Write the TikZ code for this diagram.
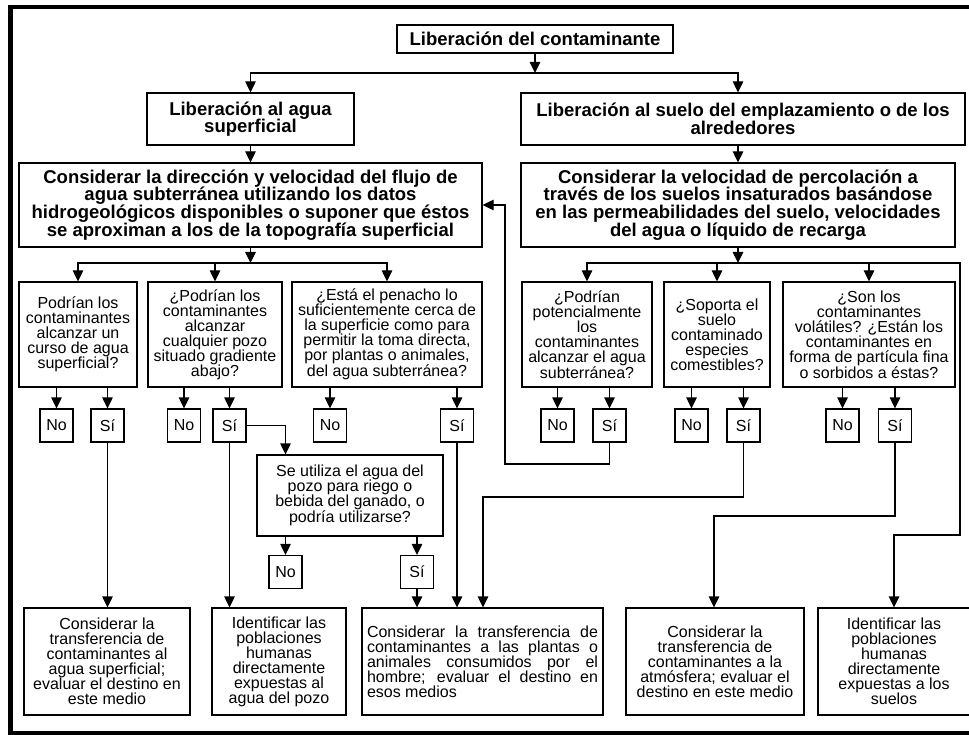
\documentclass[tikz,border=0pt]{standalone}
\usepackage{fontspec}
\setmainfont{Liberation Sans}
\usetikzlibrary{arrows.meta}
\newcommand{\jline}[1]{\makebox[231pt][s]{#1}}

\begin{document}
\begin{tikzpicture}[x=1pt,y=-1pt,
  bigbox/.style={draw,line width=1.2pt,align=center,inner sep=1pt,font=\bfseries\fontsize{18.5}{17.7}\selectfont},
  qbox/.style={draw,line width=1.2pt,align=center,inner sep=1pt,font=\fontsize{16}{15}\selectfont},
  ansbox/.style={qbox,minimum width=33pt,minimum height=33pt},
  boxsize/.style 2 args={minimum width=#1pt,minimum height=#2pt},
  arr/.style={line width=1.2pt,-{Triangle[width=10.5pt,length=11pt]}}
]
\useasboundingbox (0,0) rectangle (969,735);
\draw[line width=4.5pt] (10.5,7) rectangle (1000,733);

% top levels
\node[bigbox,boxsize={276}{28}] (rel) at (535,39) {Liberación del contaminante};
\node[bigbox,boxsize={207}{52}] (agua) at (250.5,119) {Liberación al agua\\superficial};
\node[bigbox,boxsize={444}{52}] (suelo) at (743,119) {Liberación al suelo del emplazamiento o de los\\alrededores};
\node[bigbox,boxsize={463}{84}] (flujo) at (250.5,205) {Considerar la dirección y velocidad del flujo de\\agua subterránea utilizando los datos\\hidrogeológicos disponibles o suponer que éstos\\se aproximan a los de la topografía superficial};
\node[bigbox,boxsize={434}{84}] (percol) at (738,205) {Considerar la velocidad de percolación a\\través de los suelos insaturados basándose\\en las permeabilidades del suelo, velocidades\\del agua o líquido de recarga};

\coordinate (busA) at (535,73);
\draw[arr] (rel) -- (busA);
\draw[arr] (busA) -| (agua);
\draw[arr] (busA) -| ([xshift=-5pt]suelo.north);
\draw[arr] (agua) -- (flujo);
\draw[arr] (suelo.south -| percol) -- (percol);

% questions
\node[qbox,boxsize={118}{105}] (qcurso) at (78,334.5) {Podrían los\\contaminantes\\alcanzar un\\curso de agua\\superficial?};
\node[qbox,boxsize={134}{105}] (qpozo) at (215,334.5) {¿Podrían los\\contaminantes\\alcanzar\\cualquier pozo\\situado gradiente\\abajo?};
\node[qbox,boxsize={190}{105}] (qpenacho) at (387,334.5) {¿Está el penacho lo\\suficientemente cerca de\\la superficie como para\\permitir la toma directa,\\por plantas o animales,\\del agua subterránea?};
\node[qbox,boxsize={130}{105}] (qsubt) at (587,334.5) {¿Podrían\\potencialmente\\los\\contaminantes\\alcanzar el agua\\subterránea?};
\node[qbox,boxsize={106}{105}] (qcomest) at (717,334.5) {¿Soporta el\\suelo\\contaminado\\especies\\comestibles?};
\node[qbox,boxsize={172}{105}] (qvolat) at (869,334.5) {¿Son los\\contaminantes\\volátiles? ¿Están los\\contaminantes en\\forma de partícula fina\\o sorbidos a éstas?};

\coordinate (busD) at (250.5,263);
\coordinate (busE) at (738,263);
\draw[arr] (flujo) -- (busD);
\draw[arr] (percol) -- (busE);
\foreach \n in {curso,pozo,penacho}
  \draw[arr] (busD) -| (q\n);
\foreach \n in {subt,comest,volat}
  \draw[arr] (busE) -| (q\n);

% answers
\foreach \n/\x/\y in {curso/56.5/107.5,pozo/184/229.5,penacho/330/457,subt/557.5/609.5,comest/691.5/743.5,volat/842.5/895}{
  \node[ansbox] (no\n) at (\x,425.5) {No};
  \node[ansbox] (si\n) at (\y,425.5) {Sí};
  \draw[arr] (q\n.south -| no\n) -- (no\n);
  \draw[arr] (q\n.south -| si\n) -- (si\n);
}

\node[qbox,boxsize={186}{81}] (qriego) at (350,495.5) {Se utiliza el agua del\\pozo para riego o\\bebida del ganado, o\\podría utilizarse?};
\node[ansbox] (noriego) at (285.5,572) {No};
\node[ansbox] (siriego) at (417,572) {Sí};
\draw[arr] (sipozo) -| (qriego.north -| noriego);
\draw[arr] (qriego.south -| noriego) -- (noriego);
\draw[arr] (qriego.south -| siriego) -- (siriego);

% results
\node[qbox,boxsize={166}{107}] (tagua) at (107,661.5) {Considerar la\\transferencia de\\contaminantes al\\agua superficial;\\evaluar el destino en\\este medio};
\node[qbox,boxsize={134}{107}] (hpozo) at (279,661.5) {Identificar las\\poblaciones\\humanas\\directamente\\expuestas al\\agua del pozo};
\node[qbox,boxsize={241}{107},align=left] (tplantas) at (482.5,661.5) {\jline{Considerar la transferencia de}\\\jline{contaminantes a las plantas o}\\\jline{animales consumidos por el}\\\jline{hombre; evaluar el destino en}\\esos medios};
\node[qbox,boxsize={178}{107}] (tatmos) at (715,661.5) {Considerar la\\transferencia de\\contaminantes a la\\atmósfera; evaluar el\\destino en este medio};
\node[qbox,boxsize={152}{107}] (hsuelos) at (894,661.5) {Identificar las\\poblaciones\\humanas\\directamente\\expuestas a los\\suelos};

\draw[arr] (sicurso) -- (sicurso |- tagua.north);
\draw[arr] (sipozo) -- (sipozo |- hpozo.north);
\draw[arr] (siriego) -- (siriego |- tplantas.north);
\draw[arr] (sipenacho) -- (sipenacho |- tplantas.north);
\coordinate (bcomest) at (483,497);
\draw[arr] (sicomest) |- (bcomest) -- (bcomest |- tplantas.north);
\coordinate (bvolat) at (714,516);
\draw[arr] (sivolat) |- (bvolat) -- (bvolat |- tatmos.north);
\coordinate (rbend) at (960,535);
\draw[arr] (busE) -| (rbend) -| (hsuelos);
\coordinate (fb) at (505,464);
\draw[arr] (sisubt) |- (fb) |- (flujo.east);
\end{tikzpicture}
\end{document}
